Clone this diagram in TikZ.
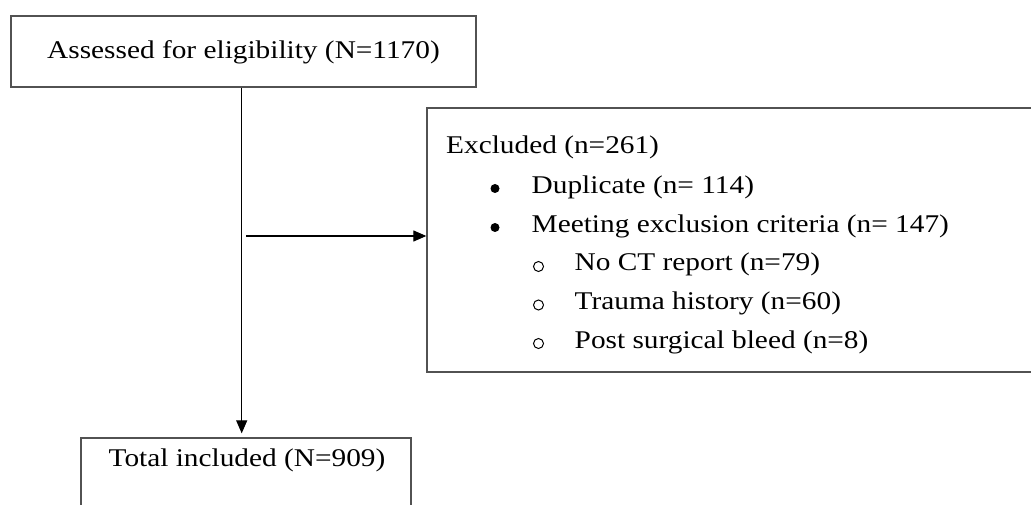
\documentclass[tikz,border=0pt]{standalone}
\usepackage{fontspec}
\setmainfont{Liberation Serif}[FakeStretch=1.15]
\usetikzlibrary{arrows.meta}
\begin{document}
\begin{tikzpicture}[x=1pt,y=-1pt,
  boxed/.style={draw=black!68, line width=1.3pt, rectangle, inner sep=0pt},
  lbl/.style={inner sep=0pt, font=\fontsize{25.5}{30}\selectfont},
  conn/.style={draw=black, line width=1.1pt, -{Triangle[length=13pt,width=11pt]}},
  dotbullet/.style={circle, fill=black, inner sep=0pt, minimum size=9pt},
  ringbullet/.style={circle, draw=black, line width=1pt, inner sep=0pt, minimum size=10pt}]
\useasboundingbox (0,0) rectangle (1031,505);
\clip (0,0) rectangle (1031,505);
\fill[white] (0,0) rectangle (1031,505);
% top box
\node[boxed, lbl, minimum width=465pt, minimum height=71pt, text height=17pt, text depth=3.4pt] (assess) at (243.5,51.5) {Assessed for eligibility (N=1170)};
% bottom box
\node[boxed, minimum width=330pt, minimum height=110pt] (total) at (246,493) {};
\node[lbl, anchor=base] (totaltext) at (247,466.7) {Total included (N=909)};
% excluded box
\node[boxed, minimum width=630pt, minimum height=264pt] (excl) at (742,240) {};
\node[lbl, anchor=base west] (t0) at (446,153.3) {Excluded (n=261)};
\node[dotbullet] (b1) at (495,188.5) {};
\node[lbl, anchor=base west] (t1) at (531.5,193.5) {Duplicate (n= 114)};
\node[dotbullet] (b2) at (495,227.5) {};
\node[lbl, anchor=base west] (t2) at (531.5,232.5) {Meeting exclusion criteria (n= 147)};
\node[ringbullet] (c1) at (538.5,266.5) {};
\node[lbl, anchor=base west] (t3) at (574.5,271) {No CT report (n=79)};
\node[ringbullet] (c2) at (538.5,305) {};
\node[lbl, anchor=base west] (t4) at (574.5,309.5) {Trauma history (n=60)};
\node[ringbullet] (c3) at (538.5,343.5) {};
\node[lbl, anchor=base west] (t5) at (574.5,348) {Post surgical bleed (n=8)};
% connectors
\coordinate (vx) at (241.7,0);
\coordinate (branch) at (246,236);
\draw[conn, shorten >=4pt] (assess.south -| vx) -- (total.north -| vx);
\draw[conn] (branch) -- (branch -| excl.west);
\end{tikzpicture}
\end{document}
